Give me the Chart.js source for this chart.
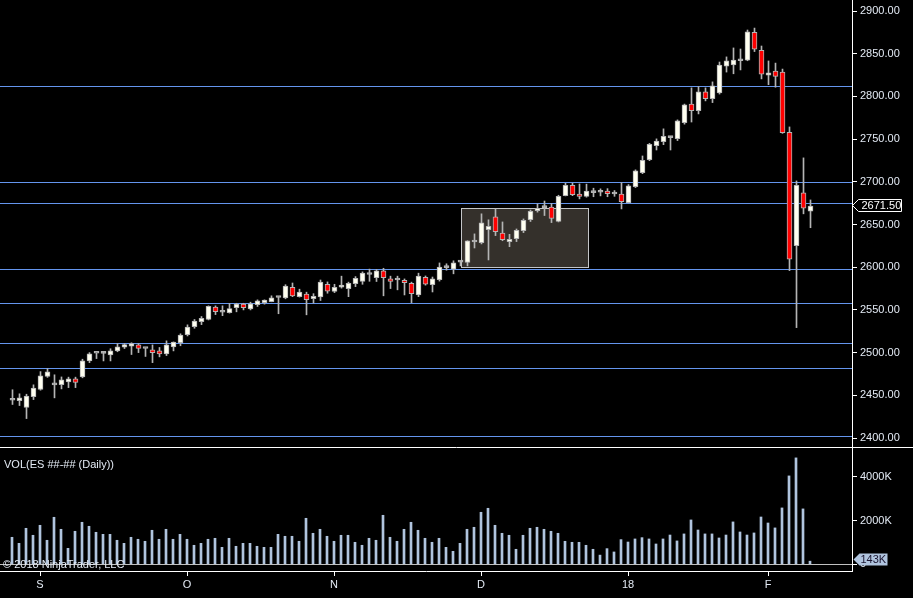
<!DOCTYPE html>
<html>
<head>
<meta charset="utf-8">
<script src="https://cdn.jsdelivr.net/npm/chart.js@4.4.1/dist/chart.umd.min.js"></script>
<style>
  html, body { margin: 0; padding: 0; background: #000; overflow: hidden; }
  #wrap { position: relative; width: 913px; height: 598px; }
  canvas { position: absolute; left: 0; }
  #priceChart { top: 0; }
  #volChart { top: 447px; }
</style>
</head>
<body>
<div id="wrap">
  <canvas id="priceChart" width="913" height="447"></canvas>
  <canvas id="volChart" width="913" height="151"></canvas>
</div>
<script>
// ES daily candles, late Aug 2017 -> Feb 2018
const opens = [
  2444.25, 2443.75, 2435.75, 2448.5, 2456.75, 2472, 2462.25, 2462.5, 2465.75, 2469.25,
  2471.5, 2490.25, 2499.25, 2499, 2497.25, 2502, 2506.5, 2507.5, 2509, 2504.75,
  2503.25, 2502, 2498.5, 2506.75, 2511.75, 2521, 2530.5, 2536.25, 2538.75, 2553.25,
  2547.25, 2546.75, 2552.75, 2556.75, 2551.25, 2556.25, 2558.5, 2559.75, 2564.5, 2564,
  2576.5, 2565.5, 2568.5, 2563.25, 2565.25, 2580, 2571.5, 2576.5, 2575, 2580.75,
  2583.25, 2591.5, 2587.75, 2595.75, 2586.25, 2585, 2584.75, 2581.25, 2567.5, 2588.25,
  2579.5, 2585.5, 2599.5, 2597.75, 2606, 2605.5, 2629.5, 2628.75, 2644, 2659,
  2640, 2630, 2633.5, 2642.75, 2655.75, 2666.25, 2669.75, 2670.5, 2653.5, 2683.75,
  2696, 2685.75, 2683, 2687.25, 2687.75, 2689, 2685.75, 2685.75, 2675.5, 2694.25,
  2710.75, 2726, 2742.25, 2747, 2751.75, 2750.5, 2769.25, 2791, 2783.25, 2805.25,
  2797.25, 2804, 2835.5, 2836.75, 2841.75, 2842.5, 2875, 2854, 2824.75, 2829.75,
  2828.5, 2758, 2625.25, 2687, 2665.5
];
const highs = [
  2456.5, 2451.75, 2451.25, 2462.25, 2477.75, 2481.25, 2474, 2471.5, 2471.25, 2471.25,
  2492.25, 2500, 2499.5, 2501, 2504.5, 2510.5, 2510.5, 2511.5, 2510.5, 2505.5,
  2509, 2506, 2513.75, 2512.5, 2522, 2532.5, 2538.75, 2542.25, 2554.75, 2554.75,
  2554.75, 2557.5, 2557.75, 2557.75, 2559, 2561.75, 2561.75, 2566.5, 2565.5, 2579.5,
  2581.5, 2574.25, 2570.75, 2569, 2585, 2582.75, 2580, 2589.5, 2582.5, 2589,
  2594.5, 2597.75, 2597.25, 2598.75, 2589.5, 2589.5, 2586.25, 2582.5, 2593, 2589.75,
  2588.5, 2605, 2604, 2607.5, 2607.75, 2631, 2639, 2662.5, 2655.5, 2668.25,
  2653, 2638.5, 2644.75, 2656.5, 2667, 2674, 2677.5, 2674.5, 2684.25, 2698.25,
  2698.25, 2697.5, 2697.25, 2692.5, 2691.75, 2692, 2689.75, 2699, 2696.75, 2714,
  2730.25, 2745, 2750.25, 2762, 2753.25, 2772.5, 2791, 2810, 2811.5, 2810,
  2817, 2840.25, 2846.25, 2856.75, 2855.5, 2877.75, 2880, 2859, 2841.5, 2839,
  2832, 2764.25, 2701, 2728, 2678.75
];
const lows = [
  2439.25, 2438, 2422.75, 2445, 2456, 2471, 2447, 2457.5, 2459, 2459,
  2470.5, 2488.25, 2493, 2490.25, 2490.25, 2501, 2504.75, 2497.75, 2500, 2495.5,
  2488.25, 2495, 2496.5, 2502, 2508, 2519.5, 2528.5, 2532.75, 2538.25, 2544.5,
  2543.25, 2546.25, 2547.75, 2550, 2550, 2554, 2556.75, 2559.5, 2545.5, 2563,
  2565.5, 2565, 2544.25, 2558, 2561, 2569.5, 2570.25, 2575.5, 2565.5, 2577.25,
  2580, 2583.5, 2583.25, 2566.5, 2575, 2573.5, 2567.5, 2558.5, 2565.5, 2579,
  2571, 2583.75, 2596.5, 2592.25, 2601.5, 2601.5, 2622.5, 2627.25, 2608.5, 2637,
  2631, 2624, 2630, 2640.5, 2653.5, 2664.5, 2660.5, 2652.25, 2653, 2683.5,
  2683.75, 2680, 2682, 2682.5, 2683.5, 2682.5, 2683, 2668.25, 2675.25, 2693.25,
  2709.5, 2724.75, 2737.25, 2743.5, 2737.25, 2748.25, 2767.5, 2770, 2779.5, 2794.75,
  2792.75, 2802.75, 2828.5, 2826.5, 2831, 2841.75, 2852.5, 2820.5, 2813.75, 2810.75,
  2756.75, 2596, 2529.25, 2662.5, 2646.25
];
const closes = [
  2444.25, 2447, 2449, 2458.5, 2472.75, 2477.5, 2462.25, 2468, 2469.25, 2465,
  2490.25, 2498.5, 2499.25, 2499, 2502, 2506.75, 2509.5, 2510.5, 2504.75, 2504.75,
  2500, 2498.5, 2509, 2512.25, 2520.5, 2529.75, 2537, 2540.25, 2554.25, 2548,
  2547.25, 2551.5, 2556.75, 2552.75, 2557, 2560.5, 2561.5, 2564, 2564.5, 2578,
  2566.5, 2571, 2562, 2566, 2582.5, 2572, 2576.5, 2579, 2581.25, 2587,
  2593.25, 2591.5, 2595.75, 2587.75, 2583.25, 2585, 2582, 2569, 2589.5, 2580,
  2586.25, 2600, 2599.5, 2605, 2606, 2630.75, 2629.5, 2652, 2648, 2641.75,
  2632.25, 2632.75, 2643.25, 2655, 2665.5, 2669, 2669.75, 2657, 2683, 2696,
  2685, 2683, 2689, 2687.25, 2687.75, 2686, 2685.75, 2676.75, 2695.25, 2712.75,
  2725.25, 2744, 2747.75, 2753.25, 2751.75, 2771.25, 2790, 2783.25, 2805.25, 2797.25,
  2812.25, 2836.75, 2841.75, 2842.5, 2841.75, 2875.5, 2855.25, 2826, 2827.5, 2823.5,
  2757.5, 2609.5, 2696, 2669, 2671.5
];
// volume in thousands of contracts
const volumes = [
  1236, 961, 1648, 1328, 1785, 1099, 2152, 1602, 732, 1511,
  1923, 1740, 1465, 1373, 1373, 1099, 961, 1236, 1145, 1053,
  1557, 1145, 1602, 1145, 1373, 1145, 870, 961, 1145, 1190,
  778, 1190, 824, 961, 961, 824, 778, 778, 1373, 1282,
  1282, 1053, 2106, 1419, 1602, 1282, 1053, 1328, 1328, 1007,
  870, 1190, 1099, 2243, 1236, 1053, 1602, 1923, 1557, 1190,
  1007, 1190, 778, 595, 961, 1602, 1694, 2381, 2564, 1785,
  1419, 1328, 687, 1328, 1648, 1694, 1602, 1511, 1419, 1053,
  1007, 1007, 870, 687, 420, 717, 565, 1130, 1020, 1160,
  1220, 1160, 930, 1160, 1340, 1070, 1390, 2030, 1570, 1390,
  1390, 1205, 1340, 1940, 1480, 1340, 1435, 2165, 1890, 1665,
  2580, 4045, 4870, 2535, 143
];
const monthTicks = [4, 25, 46, 67, 88, 108];
const monthLabels = ['S', 'O', 'N', 'D', '18', 'F'];
const volTicks = [0, 2000, 4000];
const priceLevels = [2812, 2699.5, 2675, 2598, 2558, 2511, 2482, 2402];
// shaded consolidation box: bar index range and price range
const boxBars = [64, 82.2];
const boxPrices = [2600.7, 2669.1];
const lastPrice = 2671.5;
const lastVolume = 143;

const textColor = '#e4ebf5';
const candleLine = '#b4b4b4';
const volColor = '#b0c4de';

Chart.defaults.font.family = '"Liberation Sans", Arial, sans-serif';
Chart.defaults.font.size = 11;

let priceChart, volChart;

const bodyColors = opens.map((o, i) => {
  if (closes[i] > o) return '#fffff0';
  if (closes[i] < o) return '#ff0000';
  return candleLine;
});

function fixY(s) {
  s.width = 61;
  s.paddingTop = 0;
  s.paddingBottom = 0;
}

// horizontal levels + gray box, drawn under the candles
const levelsPlugin = {
  id: 'levels',
  beforeDatasetsDraw(chart) {
    const { ctx, chartArea, scales } = chart;
    ctx.save();
    const bx1 = Math.round(scales.x.getPixelForValue(boxBars[0])) + 0.5;
    const bx2 = Math.round(scales.x.getPixelForValue(boxBars[1])) + 0.5;
    const by1 = Math.round(scales.y.getPixelForValue(boxPrices[1])) + 0.5;
    const by2 = Math.round(scales.y.getPixelForValue(boxPrices[0])) + 0.5;
    ctx.fillStyle = '#34302b';
    ctx.fillRect(bx1, by1, bx2 - bx1, by2 - by1);
    ctx.strokeStyle = '#c4c6c8';
    ctx.lineWidth = 1;
    ctx.strokeRect(bx1, by1, bx2 - bx1, by2 - by1);

    ctx.strokeStyle = '#6495ed';
    priceLevels.forEach((p) => {
      const y = Math.round(scales.y.getPixelForValue(p)) + 0.5;
      ctx.beginPath();
      ctx.moveTo(chartArea.left, y);
      ctx.lineTo(chartArea.right, y);
      ctx.stroke();
    });
    ctx.restore();
  },
  afterDraw(chart) {
    // last price marker on the axis
    const { ctx, chartArea, scales } = chart;
    const y = Math.round(scales.y.getPixelForValue(lastPrice)) - 0.5;
    const x = chartArea.right + 0.5;
    ctx.save();
    ctx.beginPath();
    ctx.moveTo(x, y);
    ctx.lineTo(x + 6, y - 6);
    ctx.lineTo(x + 49, y - 6);
    ctx.lineTo(x + 49, y + 6);
    ctx.lineTo(x + 6, y + 6);
    ctx.closePath();
    ctx.fillStyle = '#000';
    ctx.fill();
    ctx.strokeStyle = '#ffffff';
    ctx.lineWidth = 1;
    ctx.stroke();
    ctx.fillStyle = '#ffffff';
    ctx.textBaseline = 'middle';
    ctx.font = '11px "Liberation Sans", Arial, sans-serif';
    ctx.fillText(lastPrice.toFixed(2), x + 9, y + 0.5);
    ctx.restore();
  },
};

function createPriceChart() {
  const ctx = document.getElementById('priceChart').getContext('2d');
  const ppp = 427 / 500; // pixels per point
  priceChart = new Chart(ctx, {
    type: 'bar',
    data: {
      datasets: [
        {
          label: 'bodies',
          data: opens.map((o, i) => ({ x: i, y: [o, closes[i]] })),
          backgroundColor: bodyColors,
          borderColor: candleLine,
          borderWidth: 1,
          borderSkipped: false,
          barThickness: 5,
          minBarLength: 2,
          grouped: false,
          order: 0,
        },
        {
          label: 'wicks',
          data: lows.map((l, i) => ({ x: i, y: [l, highs[i]] })),
          backgroundColor: candleLine,
          barThickness: 1,
          grouped: false,
          order: 1,
        },
      ],
    },
    options: {
      responsive: false,
      maintainAspectRatio: false,
      animation: false,
      events: [],
      layout: { padding: 0 },
      plugins: { legend: { display: false }, tooltip: { enabled: false } },
      scales: {
        x: {
          type: 'linear',
          display: false,
          offset: false,
          min: -12.5 / 7,
          max: 114 + 41.5 / 7,
        },
        y: {
          position: 'right',
          min: 2400 - 9 / ppp,
          max: 2900 + 11 / ppp,
          afterFit: fixY,
          ticks: {
            stepSize: 50,
            includeBounds: false,
            color: textColor,
            padding: 3,
            callback: (v) => v.toFixed(2),
          },
          grid: { drawOnChartArea: false, drawTicks: true, tickLength: 5, color: '#ffffff' },
          border: { display: true, color: '#ffffff' },
        },
      },
    },
    plugins: [levelsPlugin],
  });
}

const volPlugin = {
  id: 'volExtras',
  afterDatasetsDraw(chart) {
    const { ctx, chartArea, scales } = chart;
    ctx.save();
    // zero line
    const y0 = Math.round(scales.y.getPixelForValue(0)) + 0.5;
    ctx.strokeStyle = '#c0c0c0';
    ctx.lineWidth = 1;
    ctx.beginPath();
    ctx.moveTo(chartArea.left, y0);
    ctx.lineTo(chartArea.right, y0);
    ctx.stroke();
    ctx.restore();
  },
  afterDraw(chart) {
    const { ctx, chartArea, scales, width } = chart;
    ctx.save();
    // panel separator
    ctx.strokeStyle = '#ffffff';
    ctx.beginPath();
    ctx.moveTo(0, 0.5);
    ctx.lineTo(width, 0.5);
    ctx.stroke();

    ctx.font = '11px "Liberation Sans", Arial, sans-serif';
    ctx.textBaseline = 'middle';
    ctx.fillStyle = textColor;
    ctx.fillText('VOL(ES ##-## (Daily))', 4, 18);
    ctx.fillText('\u00a9 2018 NinjaTrader, LLC', 3, 118);

    // last volume marker
    const y = Math.round(scales.y.getPixelForValue(lastVolume)) - 1.5;
    const x = chartArea.right + 1.5;
    ctx.beginPath();
    ctx.moveTo(x, y);
    ctx.lineTo(x + 6, y - 6);
    ctx.lineTo(x + 34, y - 6);
    ctx.lineTo(x + 34, y + 6);
    ctx.lineTo(x + 6, y + 6);
    ctx.closePath();
    ctx.fillStyle = volColor;
    ctx.fill();
    ctx.fillStyle = '#1a1530';
    ctx.fillText(lastVolume + 'K', x + 7, y + 0.5);
    ctx.restore();
  },
};

function createVolChart() {
  const ctx = document.getElementById('volChart').getContext('2d');
  const kpp = 2000 / 43.7; // thousands per pixel
  volChart = new Chart(ctx, {
    type: 'bar',
    data: {
      datasets: [
        {
          label: 'volume',
          data: volumes.map((v, i) => ({ x: i, y: v })),
          backgroundColor: volColor,
          barThickness: 2,
        },
      ],
    },
    options: {
      responsive: false,
      maintainAspectRatio: false,
      animation: false,
      events: [],
      layout: { padding: 0 },
      plugins: { legend: { display: false }, tooltip: { enabled: false } },
      scales: {
        x: {
          type: 'linear',
          offset: false,
          min: -12 / 7,
          max: 114 + 42 / 7,
          afterBuildTicks: (s) => {
            s.ticks = monthTicks.map((v) => ({ value: v }));
          },
          afterFit: (s) => {
            s.height = 27;
            s.paddingLeft = 0;
            s.paddingRight = 0;
          },
          ticks: {
            color: textColor,
            padding: 2,
            autoSkip: false,
            maxRotation: 0,
            callback: (v, i) => monthLabels[i],
          },
          grid: { offset: false, drawOnChartArea: false, drawTicks: true, tickLength: 5, color: '#ffffff' },
          border: { display: true, color: '#ffffff' },
        },
        y: {
          position: 'right',
          min: -(571 - 564.3) * kpp,
          max: (564.3 - 447) * kpp,
          afterBuildTicks: (s) => {
            s.ticks = volTicks.map((v) => ({ value: v }));
          },
          afterFit: fixY,
          ticks: {
            color: textColor,
            padding: 3,
            callback: (v) => (v === 0 ? '0' : v + 'K'),
          },
          grid: { drawOnChartArea: false, drawTicks: true, tickLength: 5, color: '#ffffff' },
          border: { display: true, color: '#ffffff' },
        },
      },
    },
    plugins: [volPlugin],
  });
}

createPriceChart();
createVolChart();
</script>
</body>
</html>
